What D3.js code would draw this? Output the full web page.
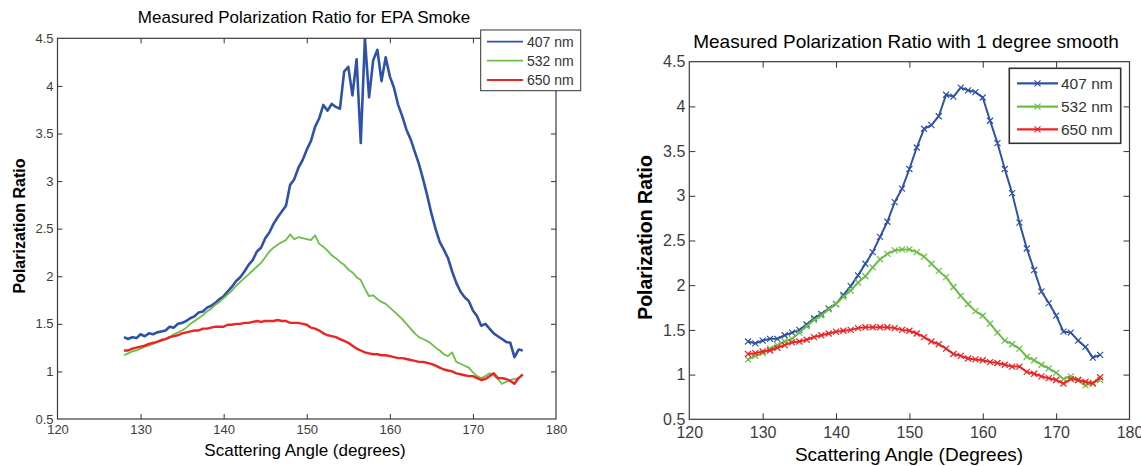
<!DOCTYPE html>
<html>
<head>
<meta charset="utf-8">
<script src="https://cdn.jsdelivr.net/npm/d3@7"></script>
<style>
  html, body { margin: 0; padding: 0; background: #fff; }
  svg { display: block; }
  text { font-family: "Liberation Sans", Arial, sans-serif; }
</style>
</head>
<body>
<svg id="chart" width="1141" height="466"></svg>
<script>
// ---------------- DATA ----------------
const seriesNames = ["407 nm", "532 nm", "650 nm"];
const xTickValues = [120, 130, 140, 150, 160, 170, 180];
const yTickValues = [0.5, 1, 1.5, 2, 2.5, 3, 3.5, 4, 4.5];
const yTickLabels = ["0.5", "1", "1.5", "2", "2.5", "3", "3.5", "4", "4.5"];

// Left panel: raw measurement (read every 0.5 degree)
const rawAngles = [128,128.5,129,129.5,130,130.5,131,131.5,132,132.5,133,133.5,134,134.5,135,135.5,136,136.5,137,137.5,
  138,138.5,139,139.5,140,140.5,141,141.5,142,142.5,143,143.5,144,144.5,145,145.5,146,146.5,147,147.5,
  148,148.5,149,149.5,150,150.5,151,151.5,152,152.5,153,153.5,154,154.5,155,155.5,156,156.5,157,157.5,
  158,158.5,159,159.5,160,160.5,161,161.5,162,162.5,163,163.5,164,164.5,165,165.5,166,166.5,167,167.5,
  168,168.5,169,169.5,170,170.5,171,171.5,172,172.5,173,173.5,174,174.5,175,175.5,176];
const raw407 = [1.36,1.34,1.36,1.35,1.39,1.37,1.40,1.39,1.41,1.42,1.43,1.47,1.46,1.50,1.51,1.53,1.56,1.58,1.62,1.63,
  1.67,1.69,1.72,1.76,1.79,1.84,1.89,1.95,1.99,2.05,2.12,2.17,2.26,2.30,2.40,2.46,2.55,2.62,2.68,2.74,
  2.96,3.02,3.14,3.22,3.33,3.42,3.57,3.66,3.80,3.74,3.81,3.78,3.76,4.15,4.20,3.90,4.28,3.40,4.50,3.88,
  4.27,4.38,4.05,4.30,4.10,3.98,3.80,3.68,3.54,3.44,3.31,3.18,3.02,2.85,2.66,2.50,2.36,2.28,2.19,2.05,
  1.93,1.84,1.78,1.74,1.64,1.58,1.48,1.50,1.45,1.40,1.37,1.34,1.31,1.30,1.15,1.23,1.22];
const raw532 = [1.17,1.19,1.21,1.22,1.24,1.26,1.27,1.29,1.31,1.32,1.34,1.36,1.39,1.41,1.43,1.46,1.50,1.53,1.56,1.59,
  1.63,1.66,1.70,1.73,1.77,1.81,1.85,1.90,1.94,1.98,2.02,2.06,2.10,2.14,2.20,2.26,2.30,2.33,2.36,2.38,
  2.44,2.39,2.41,2.40,2.39,2.38,2.43,2.34,2.31,2.27,2.22,2.19,2.15,2.12,2.07,2.04,1.99,1.96,1.87,1.79,
  1.80,1.76,1.73,1.71,1.67,1.63,1.59,1.55,1.50,1.45,1.40,1.36,1.34,1.32,1.29,1.25,1.22,1.18,1.16,1.20,
  1.10,1.08,1.06,1.04,0.99,0.95,0.93,0.95,0.98,0.96,0.92,0.87,0.89,0.91,0.92,0.93,0.96];
const raw650 = [1.22,1.22,1.24,1.25,1.26,1.27,1.29,1.30,1.31,1.33,1.34,1.36,1.37,1.38,1.40,1.41,1.42,1.43,1.43,1.45,
  1.45,1.46,1.47,1.47,1.47,1.49,1.49,1.50,1.50,1.51,1.51,1.52,1.53,1.52,1.53,1.53,1.53,1.54,1.53,1.53,
  1.51,1.51,1.51,1.50,1.49,1.46,1.45,1.43,1.40,1.38,1.37,1.36,1.34,1.32,1.30,1.27,1.24,1.22,1.20,1.19,
  1.18,1.18,1.17,1.17,1.16,1.15,1.14,1.14,1.13,1.12,1.11,1.10,1.10,1.09,1.08,1.06,1.04,1.02,1.01,1.00,
  0.98,0.97,0.96,0.95,0.95,0.93,0.91,0.92,0.95,0.98,0.93,0.93,0.92,0.90,0.87,0.93,0.97];

// Right panel: 1 degree smoothed
const smoothAngles = [128,129,130,131,132,133,134,135,136,137,138,139,140,141,142,143,144,145,146,147,148,149,150,151,
  152,153,154,155,156,157,158,159,160,161,162,163,164,165,166,167,168,169,170,171,172,173,174,175,176];
const smooth407 = [1.37,1.35,1.38,1.40,1.40,1.44,1.47,1.50,1.56,1.63,1.68,1.74,1.79,1.89,1.99,2.11,2.24,2.37,2.54,2.71,2.93,3.08,3.30,3.54,
  3.75,3.79,3.89,4.13,4.11,4.21,4.18,4.16,4.10,3.84,3.59,3.30,3.03,2.70,2.41,2.17,1.93,1.80,1.66,1.48,1.47,1.38,1.31,1.19,1.22];
const smooth532 = [1.17,1.21,1.24,1.29,1.33,1.37,1.40,1.47,1.54,1.61,1.66,1.73,1.79,1.87,1.94,2.03,2.10,2.20,2.29,2.35,2.39,2.40,2.40,2.37,
  2.32,2.24,2.16,2.09,1.98,1.88,1.79,1.71,1.66,1.57,1.47,1.38,1.34,1.29,1.20,1.16,1.11,1.07,1.02,0.95,0.98,0.94,0.88,0.91,0.94];
const smooth650 = [1.23,1.24,1.26,1.27,1.30,1.33,1.36,1.37,1.39,1.42,1.44,1.46,1.48,1.49,1.50,1.52,1.53,1.53,1.53,1.53,1.52,1.50,1.49,1.46,
  1.42,1.37,1.34,1.29,1.23,1.21,1.18,1.17,1.16,1.14,1.13,1.11,1.09,1.09,1.03,1.01,0.98,0.96,0.94,0.90,0.95,0.94,0.92,0.90,0.97];

const colors = ["#2f52a8", "#6abf47", "#ee2324"];

// ---------------- DRAW ----------------
const svg = d3.select("#chart");

function panel(opts) {
  const { left, right, top, bottom } = opts.box;
  const x = d3.scaleLinear().domain([120, 180]).range([left, right]);
  const y = d3.scaleLinear().domain([0.5, 4.5]).range([bottom, top]);
  const g = svg.append("g");

  g.append("rect").attr("x", left).attr("y", top)
    .attr("width", right - left).attr("height", bottom - top)
    .attr("fill", "#fff").attr("stroke", "none");

  const tickColor = "#333";
  const xb = g.append("g").attr("transform", `translate(0,${bottom})`)
    .call(d3.axisBottom(x).tickValues(xTickValues).tickFormat(d3.format("d"))
      .tickSizeInner(-opts.tick).tickSizeOuter(0).tickPadding(opts.xPad));
  const xt = g.append("g").attr("transform", `translate(0,${top})`)
    .call(d3.axisTop(x).tickValues(xTickValues).tickFormat("")
      .tickSizeInner(-opts.tick).tickSizeOuter(0));
  const yl = g.append("g").attr("transform", `translate(${left},0)`)
    .call(d3.axisLeft(y).tickValues(yTickValues).tickFormat((d, i) => yTickLabels[i])
      .tickSizeInner(-opts.tick).tickSizeOuter(0).tickPadding(opts.yPad));
  const yr = g.append("g").attr("transform", `translate(${right},0)`)
    .call(d3.axisRight(y).tickValues(yTickValues).tickFormat("")
      .tickSizeInner(-opts.tick).tickSizeOuter(0));

  [xb, xt, yl, yr].forEach(a => {
    a.select(".domain").remove();
    a.selectAll("line").attr("stroke", tickColor).attr("stroke-width", 1);
    a.selectAll("text").attr("fill", "#3c3c3c")
      .style("font-size", opts.tickFont + "px")
      .style("font-family", '"Liberation Sans", Arial, sans-serif');
  });
  [xb, xt].forEach(a => a.selectAll(".tick line").filter(d => d === 120 || d === 180).remove());
  [yl, yr].forEach(a => a.selectAll(".tick line").filter(d => d === 0.5 || d === 4.5).remove());

  const clipId = "clip" + opts.id;
  g.append("clipPath").attr("id", clipId).append("rect")
    .attr("x", left).attr("y", top).attr("width", right - left).attr("height", bottom - top);

  const line = d3.line().x(d => x(d[0])).y(d => y(d[1]));
  const lg = g.append("g").attr("clip-path", `url(#${clipId})`);
  opts.series.forEach((vals, i) => {
    const pts = opts.angles.map((a, k) => [a, vals[k]]);
    lg.append("path").datum(pts).attr("d", line)
      .attr("fill", "none").attr("stroke", colors[i])
      .attr("stroke-width", opts.lineWidths[i]).attr("stroke-linejoin", "round");
    if (opts.markers) {
      const m = 3;
      lg.append("path")
        .attr("d", pts.map(p => {
          const px = x(p[0]), py = y(p[1]);
          return `M${px - m},${py - m}L${px + m},${py + m}M${px - m},${py + m}L${px + m},${py - m}`;
        }).join(""))
        .attr("fill", "none").attr("stroke", colors[i]).attr("stroke-width", 1.2);
    }
  });

  g.append("rect").attr("x", left).attr("y", top)
    .attr("width", right - left).attr("height", bottom - top)
    .attr("fill", "none").attr("stroke", "#3a3a3a").attr("stroke-width", 1.2);

  g.append("text").attr("x", opts.title.x).attr("y", opts.title.y)
    .attr("text-anchor", "middle").style("font-size", opts.title.size + "px")
    .attr("fill", "#000").text(opts.title.text);
  g.append("text").attr("x", opts.xlab.x).attr("y", opts.xlab.y)
    .attr("text-anchor", "middle").style("font-size", opts.xlab.size + "px")
    .attr("fill", "#000").text(opts.xlab.text);
  g.append("text").attr("transform", `translate(${opts.ylab.x},${opts.ylab.y}) rotate(-90)`)
    .attr("text-anchor", "middle").style("font-size", opts.ylab.size + "px")
    .style("font-weight", "bold").attr("fill", "#000").text(opts.ylab.text);

  const L = opts.legend;
  const leg = g.append("g");
  leg.append("rect").attr("x", L.x0).attr("y", L.y0)
    .attr("width", L.x1 - L.x0).attr("height", L.y1 - L.y0)
    .attr("fill", "#fff").attr("stroke", "#333").attr("stroke-width", L.border);
  seriesNames.forEach((name, i) => {
    const ry = L.rows[i];
    leg.append("line").attr("x1", L.lx0).attr("x2", L.lx1).attr("y1", ry).attr("y2", ry)
      .attr("stroke", colors[i]).attr("stroke-width", L.lineWidth);
    if (opts.markers) {
      const cx = (L.lx0 + L.lx1) / 2, m = 3;
      leg.append("path").attr("d", `M${cx - m},${ry - m}L${cx + m},${ry + m}M${cx - m},${ry + m}L${cx + m},${ry - m}`)
        .attr("stroke", colors[i]).attr("stroke-width", 1.2).attr("fill", "none");
    }
    leg.append("text").attr("x", L.tx).attr("y", ry).attr("dy", "0.35em")
      .style("font-size", L.size + "px").attr("fill", "#333").text(name);
  });
}

panel({
  id: "L",
  box: { left: 57.5, right: 556, top: 38.3, bottom: 419 },
  tick: 5, xPad: 6, yPad: 4, tickFont: 13,
  angles: rawAngles, series: [raw407, raw532, raw650],
  lineWidths: [2.6, 1.8, 2.4], markers: false,
  title: { x: 304, y: 23, size: 17, text: "Measured Polarization Ratio for EPA Smoke" },
  xlab: { x: 305, y: 456, size: 17, text: "Scattering Angle (degrees)" },
  ylab: { x: 25, y: 226, size: 16, text: "Polarization Ratio" },
  legend: { x0: 480.7, x1: 580.7, y0: 30, y1: 90.7, lx0: 487, lx1: 523, tx: 527,
            rows: [41.7, 60.7, 80], size: 14, border: 1, lineWidth: 1.8 }
});

panel({
  id: "R",
  box: { left: 689.3, right: 1129.5, top: 61.7, bottom: 419.3 },
  tick: 6, xPad: 7, yPad: 4, tickFont: 16,
  angles: smoothAngles, series: [smooth407, smooth532, smooth650],
  lineWidths: [2, 2, 2], markers: true,
  title: { x: 906, y: 48, size: 19, text: "Measured Polarization Ratio with 1 degree smooth" },
  xlab: { x: 909, y: 461, size: 19, text: "Scattering Angle (Degrees)" },
  ylab: { x: 652, y: 237.5, size: 19.5, text: "Polarization Ratio" },
  legend: { x0: 1009.3, x1: 1120.7, y0: 68.3, y1: 143.3, lx0: 1017, lx1: 1058, tx: 1061,
            rows: [83.3, 106.7, 129.3], size: 15.5, border: 1.6, lineWidth: 2.2 }
});
</script>
</body>
</html>
